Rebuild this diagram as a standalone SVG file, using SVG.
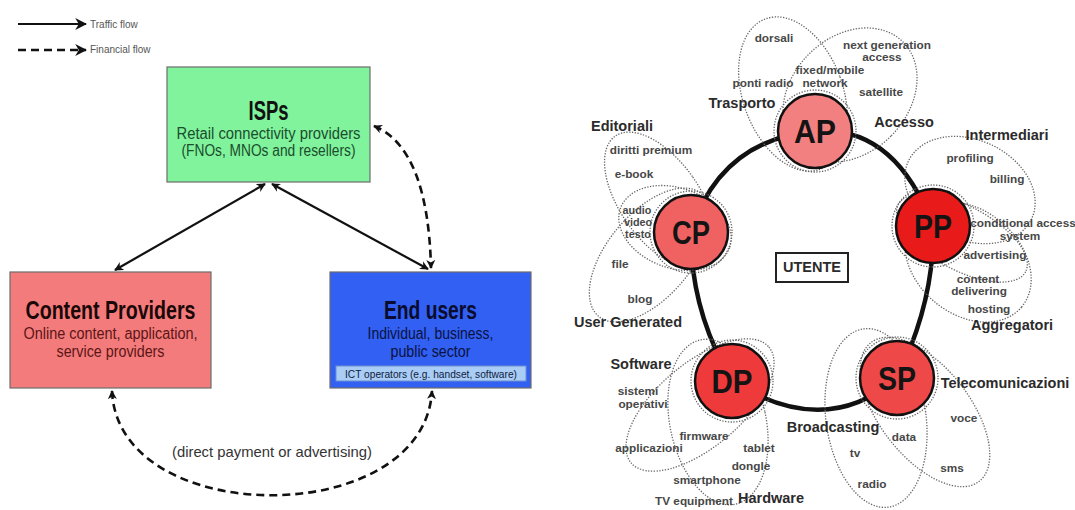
<svg xmlns="http://www.w3.org/2000/svg" width="1075" height="510" viewBox="0 0 1075 510">
  <style>
    .box { stroke: #6d6d6d; stroke-width: 1.2; }
    .title { font-family: "Liberation Sans", Arial, sans-serif; font-weight: bold; text-anchor: middle; }
    .sub { font-family: "Liberation Sans", Arial, sans-serif; text-anchor: middle; }
    .legend { font-family: "Liberation Sans", Arial, sans-serif; font-size: 10px; fill: #555; }
    .solid { fill: none; stroke: #111; stroke-width: 2.2; }
    .dash { fill: none; stroke: #111; stroke-width: 2.6; stroke-dasharray: 8 5; }
    .ring { fill: none; stroke: #111; stroke-width: 4.5; stroke-linejoin: round; }
    .dot { fill: none; stroke: #666; stroke-width: 1.3; stroke-dasharray: 1.3 1.5; }
    .node { stroke: #111; stroke-width: 2.5; }
    .ntext { font-family: "Liberation Sans", Arial, sans-serif; font-weight: bold; font-size: 33px; fill: #141414; text-anchor: middle; }
    .big { font-family: "Liberation Sans", Arial, sans-serif; font-weight: bold; font-size: 14.5px; fill: #2b2b2b; text-anchor: middle; }
    .small { font-family: "Liberation Sans", Arial, sans-serif; font-weight: bold; font-size: 11.8px; fill: #474747; text-anchor: middle; }
    .tight { font-size: 10.8px; }
  </style>
  <defs>
    <marker id="head" viewBox="0 0 10 10" refX="9" refY="5" markerWidth="9" markerHeight="9" markerUnits="userSpaceOnUse" orient="auto-start-reverse">
      <path d="M0,0 L10,5 L0,10 L3,5 z" fill="#111"/>
    </marker>
    <marker id="headL" viewBox="0 0 10 10" refX="9" refY="5" markerWidth="12" markerHeight="12" markerUnits="userSpaceOnUse" orient="auto-start-reverse">
      <path d="M0,0 L10,5 L0,10 L3,5 z" fill="#111"/>
    </marker>
  </defs>

  <rect width="1075" height="510" fill="#ffffff"/>

  <!-- Legend -->
  <g id="legend">
    <line x1="18" y1="24" x2="86" y2="24" class="solid" marker-end="url(#headL)"/>
    <text x="90" y="28" class="legend">Traffic flow</text>
    <line x1="18" y1="50" x2="86" y2="50" class="dash" stroke-dasharray="9 6" marker-end="url(#headL)"/>
    <text x="90" y="53" class="legend">Financial flow</text>
  </g>

  <!-- Market actors -->
  <g id="isps">
    <rect x="167" y="67" width="203" height="115" class="box" fill="#80f39c"/>
    <text x="268.5" y="120" class="title" font-size="27" fill="#111" textLength="40" lengthAdjust="spacingAndGlyphs">ISPs</text>
    <text x="268.5" y="139" class="sub" font-size="16" fill="#1b4d2c" textLength="184" lengthAdjust="spacingAndGlyphs">Retail connectivity providers</text>
    <text x="268.5" y="156" class="sub" font-size="16" fill="#1b4d2c" textLength="174" lengthAdjust="spacingAndGlyphs">(FNOs, MNOs and resellers)</text>
  </g>
  <g id="content-providers">
    <rect x="10" y="272" width="201" height="116" class="box" fill="#f47b7b"/>
    <text x="110.5" y="319" class="title" font-size="25" fill="#1a0808" textLength="170" lengthAdjust="spacingAndGlyphs">Content Providers</text>
    <text x="110.5" y="339" class="sub" font-size="16" fill="#5a1616" textLength="174" lengthAdjust="spacingAndGlyphs">Online content, application,</text>
    <text x="110.5" y="357" class="sub" font-size="16" fill="#5a1616" textLength="108" lengthAdjust="spacingAndGlyphs">service providers</text>
  </g>
  <g id="end-users">
    <rect x="330" y="272" width="201" height="116" class="box" fill="#3160f2"/>
    <text x="430.5" y="319" class="title" font-size="25" fill="#0a0c2e" textLength="93" lengthAdjust="spacingAndGlyphs">End users</text>
    <text x="430.5" y="339" class="sub" font-size="16" fill="#0b1242" textLength="126" lengthAdjust="spacingAndGlyphs">Individual, business,</text>
    <text x="430.5" y="357" class="sub" font-size="16" fill="#0b1242" textLength="80" lengthAdjust="spacingAndGlyphs">public sector</text>
    <rect x="336" y="366" width="190" height="15" fill="#a9cdf5" stroke="#6f8fd0" stroke-width="1"/>
    <text x="431" y="377.5" class="sub" font-size="10" fill="#102040" textLength="172" lengthAdjust="spacingAndGlyphs">ICT operators (e.g. handset, software)</text>
  </g>

  <!-- Flows between actors -->
  <g id="flows">
    <line x1="265" y1="184" x2="115" y2="270" class="solid" marker-start="url(#head)" marker-end="url(#head)"/>
    <line x1="272" y1="184" x2="428" y2="269" class="solid" marker-start="url(#head)" marker-end="url(#head)"/>
    <path d="M374,126 Q428,148 431,268" class="dash" marker-start="url(#head)" marker-end="url(#head)"/>
    <path d="M112,391 C118,530 424,530 432,391" class="dash" marker-start="url(#head)" marker-end="url(#head)"/>
    <text x="272" y="457" class="sub" font-size="15" fill="#333" textLength="200" lengthAdjust="spacingAndGlyphs">(direct payment or advertising)</text>
  </g>

  <!-- Value chain ring -->
  <g id="ring">
    <path d="M815,131 Q895,125 933,226 Q935,300 897,378 Q825,440 732,381 Q690,310 691,232 Q720,140 815,131 Z" class="ring"/>
  </g>

  <!-- Dotted domains around each stage -->
  <g id="domains">
    <ellipse cx="793" cy="94" rx="50" ry="80" transform="rotate(-20 793 94)" class="dot"/>
    <ellipse cx="850" cy="95" rx="58" ry="75" transform="rotate(45 850 95)" class="dot"/>
    <ellipse cx="970" cy="190" rx="68" ry="50" transform="rotate(25 970 190)" class="dot"/>
    <ellipse cx="962" cy="238" rx="72" ry="32" transform="rotate(28 962 238)" class="dot"/>
    <ellipse cx="968" cy="262" rx="70" ry="52" transform="rotate(40 968 262)" class="dot"/>
    <ellipse cx="660" cy="200" rx="40" ry="78" transform="rotate(-35 660 200)" class="dot"/>
    <ellipse cx="675" cy="228" rx="58" ry="40" transform="rotate(20 675 228)" class="dot"/>
    <ellipse cx="650" cy="255" rx="42" ry="80" transform="rotate(40 650 255)" class="dot"/>
    <ellipse cx="700" cy="405" rx="90" ry="42" transform="rotate(-40 700 405)" class="dot"/>
    <ellipse cx="718" cy="422" rx="48" ry="84" transform="rotate(-12 718 422)" class="dot"/>
    <ellipse cx="876" cy="418" rx="50" ry="90" transform="rotate(-8 876 418)" class="dot"/>
    <ellipse cx="925" cy="412" rx="45" ry="88" transform="rotate(-38 925 412)" class="dot"/>
  </g>

  <!-- Stages -->
  <g id="node-ap">
    <circle cx="815" cy="131" r="41" class="dot"/>
    <circle cx="815" cy="131" r="37" class="node" fill="#f28080"/>
    <text x="815" y="143" class="ntext" textLength="42" lengthAdjust="spacingAndGlyphs">AP</text>
  </g>
  <g id="node-pp">
    <circle cx="933" cy="226" r="41" class="dot"/>
    <circle cx="933" cy="226" r="37" class="node" fill="#e81a1a"/>
    <text x="933" y="238" class="ntext" textLength="38" lengthAdjust="spacingAndGlyphs">PP</text>
  </g>
  <g id="node-cp">
    <circle cx="691" cy="232" r="41" class="dot"/>
    <circle cx="691" cy="232" r="37" class="node" fill="#f06262"/>
    <text x="691" y="244" class="ntext" textLength="38" lengthAdjust="spacingAndGlyphs">CP</text>
  </g>
  <g id="node-dp">
    <circle cx="732" cy="381" r="41" class="dot"/>
    <circle cx="732" cy="381" r="37" class="node" fill="#ee3a3a"/>
    <text x="732" y="393" class="ntext" textLength="41" lengthAdjust="spacingAndGlyphs">DP</text>
  </g>
  <g id="node-sp">
    <circle cx="897" cy="378" r="41" class="dot"/>
    <circle cx="897" cy="378" r="37" class="node" fill="#ee4848"/>
    <text x="897" y="390" class="ntext" textLength="38" lengthAdjust="spacingAndGlyphs">SP</text>
  </g>
  <g id="node-utente">
    <rect x="776" y="253" width="72" height="29" fill="#fff" stroke="#222" stroke-width="2"/>
    <text x="812" y="272" class="big" font-size="13.5px" fill="#222">UTENTE</text>
  </g>

  <!-- Domain labels -->
  <g id="labels">
    <text x="742" y="108" class="big">Trasporto</text>
    <text x="904" y="127" class="big">Accesso</text>
    <text x="622" y="131" class="big">Editoriali</text>
    <text x="628" y="327" class="big">User Generated</text>
    <text x="1007" y="140" class="big">Intermediari</text>
    <text x="1012" y="330" class="big">Aggregatori</text>
    <text x="641" y="369" class="big">Software</text>
    <text x="771" y="503" class="big">Hardware</text>
    <text x="833" y="432" class="big">Broadcasting</text>
    <text x="1005" y="388" class="big">Telecomunicazioni</text>

    <text x="774" y="42" class="small">dorsali</text>
    <text x="887" y="49" class="small">next generation</text>
    <text x="882" y="61" class="small">access</text>
    <text x="830" y="74" class="small">fixed/mobile</text>
    <text x="825" y="87" class="small">network</text>
    <text x="763" y="87" class="small">ponti radio</text>
    <text x="881" y="96" class="small">satellite</text>

    <text x="651" y="154" class="small">diritti premium</text>
    <text x="634" y="178" class="small">e-book</text>
    <text x="637" y="214" class="small tight">audio</text>
    <text x="638" y="226" class="small tight">video</text>
    <text x="638" y="238" class="small tight">testo</text>
    <text x="620" y="268" class="small">file</text>
    <text x="640" y="303" class="small">blog</text>

    <text x="970" y="162" class="small">profiling</text>
    <text x="1007" y="183" class="small">billing</text>
    <text x="1023" y="227" class="small">conditional access</text>
    <text x="1020" y="240" class="small">system</text>
    <text x="995" y="259" class="small">advertising</text>
    <text x="978" y="283" class="small">content</text>
    <text x="979" y="295" class="small">delivering</text>
    <text x="989" y="313" class="small">hosting</text>

    <text x="638" y="395" class="small">sistemi</text>
    <text x="643" y="408" class="small">operativi</text>
    <text x="704" y="440" class="small">firmware</text>
    <text x="649" y="452" class="small">applicazioni</text>
    <text x="759" y="452" class="small">tablet</text>
    <text x="751" y="470" class="small">dongle</text>
    <text x="707" y="484" class="small">smartphone</text>
    <text x="694" y="505" class="small">TV equipment</text>

    <text x="964" y="422" class="small">voce</text>
    <text x="904" y="441" class="small">data</text>
    <text x="855" y="457" class="small">tv</text>
    <text x="952" y="472" class="small">sms</text>
    <text x="872" y="488" class="small">radio</text>
  </g>
</svg>
